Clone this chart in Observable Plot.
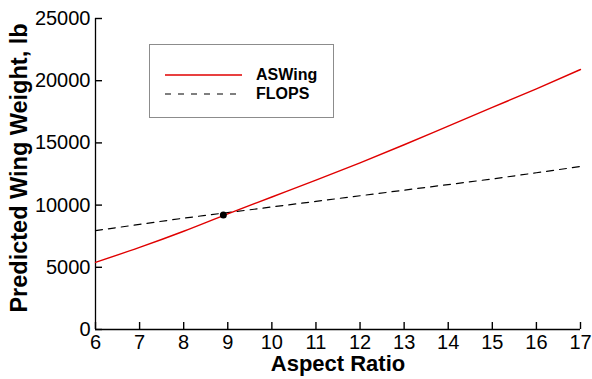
<!DOCTYPE html>
<html>
<head>
<meta charset="utf-8">
<script src="https://cdn.jsdelivr.net/npm/d3@7"></script>
<script src="https://cdn.jsdelivr.net/npm/@observablehq/plot@0.6"></script>
<style>
  html, body { margin: 0; padding: 0; background: #fff; }
  #chart { position: relative; width: 592px; height: 379px; font-family: "Liberation Sans", Arial, sans-serif; }
  #legend {
    position: absolute; left: 149px; top: 44px; width: 183px; height: 72px;
    border: 1px solid #8c8c8c; background: #fff; box-sizing: content-box;
  }
  .row { position: absolute; left: 15px; display: flex; align-items: center; }
  .row span { font-weight: bold; font-size: 16px; margin-left: 14px; color: #000; }
</style>
</head>
<body>
<div id="chart"></div>
<script>
// Aspect ratio sweep
const aspectRatio = [6, 7, 8, 9, 10, 11, 12, 13, 14, 15, 16, 17];
// Predicted wing weight (lb) from each method
const aswingWeight = [5400, 6600, 7900, 9300, 10650, 12000, 13400, 14850, 16350, 17850, 19350, 20900];
const flopsWeight  = [7950, 8450, 8950, 9400, 9850, 10300, 10750, 11200, 11650, 12100, 12600, 13100];
// Baseline design point
const baselineAR = [8.9];
const baselineWeight = [9200];

const xTicks = [6, 7, 8, 9, 10, 11, 12, 13, 14, 15, 16, 17];
const yTicks = [0, 5000, 10000, 15000, 20000, 25000];

const seriesNames = ["ASWing", "FLOPS"];
const seriesColors = ["#e00000", "#000000"];

const aswing = aspectRatio.map((x, i) => ({x, y: aswingWeight[i]}));
const flops = aspectRatio.map((x, i) => ({x, y: flopsWeight[i]}));
const baseline = baselineAR.map((x, i) => ({x, y: baselineWeight[i]}));

const tickLen = 7;

const plot = Plot.plot({
  width: 592,
  height: 379,
  marginLeft: 95,
  marginRight: 12,
  marginTop: 18,
  marginBottom: 50,
  style: {fontFamily: "'Liberation Sans', Arial, sans-serif", fontSize: "20px", color: "#000", background: "#fff"},
  x: {domain: [6, 17]},
  y: {domain: [0, 25000]},
  marks: [
    // tick labels
    Plot.axisX({ticks: xTicks, tickSize: 0, tickPadding: 5, tickFormat: d => String(d), label: null, fontSize: 20}),
    Plot.axisY({ticks: yTicks, tickSize: 0, tickPadding: 5, tickFormat: d => String(d), label: null, fontSize: 20}),
    Plot.ruleX([6], {stroke: "#000", strokeWidth: 1.3}),
    Plot.ruleY([0], {stroke: "#000", strokeWidth: 1.3}),
    Plot.line(flops, {x: "x", y: "y", stroke: seriesColors[1], strokeWidth: 1.2, strokeDasharray: "7,6"}),
    Plot.line(aswing, {x: "x", y: "y", stroke: seriesColors[0], strokeWidth: 1.4, curve: "monotone-x"}),
    Plot.dot(baseline, {x: "x", y: "y", r: 3.5, fill: "#000", stroke: "none"}),
    Plot.text(["Aspect Ratio"], {frameAnchor: "bottom", lineAnchor: "top", dy: 26, fontWeight: "bold", fontSize: 22}),
    Plot.text(["Predicted Wing Weight, lb"], {frameAnchor: "left", textAnchor: "middle", rotate: -90, dx: -76, dy: -6, fontWeight: "bold", fontSize: 23.5}),
    // tick marks shifted so they point into the plot area
    Plot.axisX({ticks: xTicks, tickSize: tickLen, dy: -tickLen, fill: "none", stroke: "#000", strokeWidth: 1.4, label: null}),
    Plot.axisY({ticks: yTicks, tickSize: tickLen, dx: tickLen, fill: "none", stroke: "#000", strokeWidth: 1.4, label: null})
  ]
});

const chart = document.getElementById("chart");
chart.appendChild(plot);

// Legend box
const legend = document.createElement("div");
legend.id = "legend";
const rows = [{top: 21, dash: null}, {top: 40, dash: "6,7"}];
seriesNames.forEach((name, i) => {
  const row = document.createElement("div");
  row.className = "row";
  row.style.top = (rows[i].top) + "px";
  const svg = d3.create("svg").attr("width", 77).attr("height", 18);
  svg.append("line")
    .attr("x1", 0).attr("x2", 77).attr("y1", 9).attr("y2", 9)
    .attr("stroke", seriesColors[i]).attr("stroke-width", i === 0 ? 1.4 : 1.2)
    .attr("stroke-dasharray", rows[i].dash);
  row.appendChild(svg.node());
  const label = document.createElement("span");
  label.textContent = name;
  row.appendChild(label);
  legend.appendChild(row);
});
chart.appendChild(legend);
</script>
</body>
</html>
